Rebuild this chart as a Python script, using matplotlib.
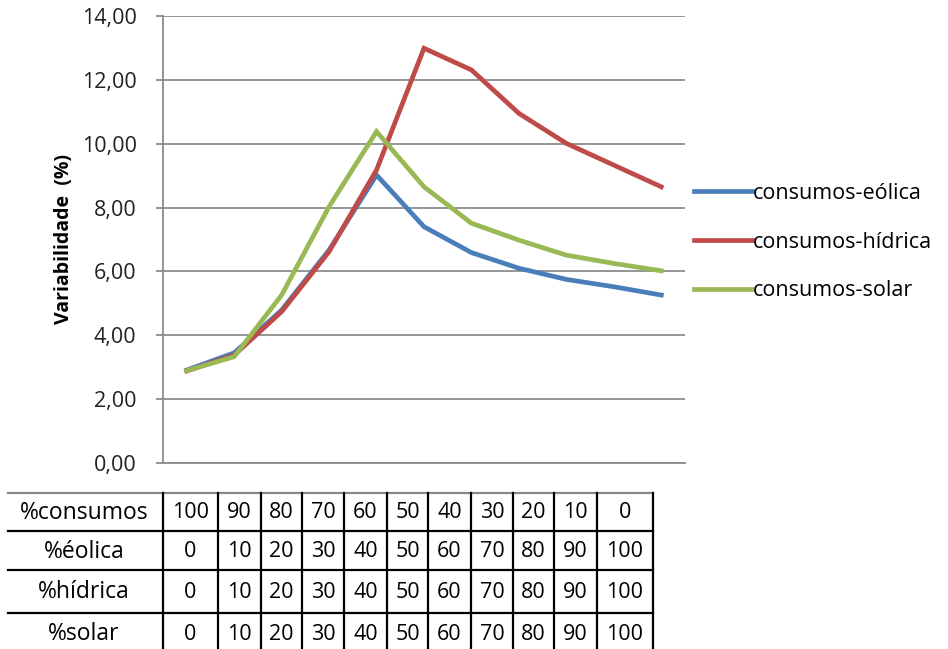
import numpy as np
import matplotlib
matplotlib.use('Agg')
import matplotlib.pyplot as plt
from matplotlib.lines import Line2D

# chart data
eolica = [2.91, 3.45, 4.79, 6.67, 9.02, 7.40, 6.59, 6.10, 5.75, 5.52, 5.26]
hidrica = [2.88, 3.38, 4.74, 6.62, 9.18, 12.99, 12.31, 10.95, 10.01, 9.33, 8.65]
solar = [2.89, 3.33, 5.26, 8.03, 10.38, 8.65, 7.51, 6.98, 6.51, 6.25, 6.02]
series_names = ['consumos-eólica', 'consumos-hídrica', 'consumos-solar']
series_colors = ['#4A7EBB', '#BE4B48', '#98B954']

# table below the chart
row_labels = ['%consumos', '%éolica', '%hídrica', '%solar']
pct_consumos = [100, 90, 80, 70, 60, 50, 40, 30, 20, 10, 0]
pct_eolica = [0, 10, 20, 30, 40, 50, 60, 70, 80, 90, 100]
pct_hidrica = [0, 10, 20, 30, 40, 50, 60, 70, 80, 90, 100]
pct_solar = [0, 10, 20, 30, 40, 50, 60, 70, 80, 90, 100]

plt.rcParams['font.family'] = ['Open Sans', 'DejaVu Sans']

W, H = 948, 649
fig = plt.figure(figsize=(W / 100, H / 100), dpi=100)


def fx(px):
    return px / W


def fy(py):
    return 1 - py / H


ax = fig.add_axes([fx(163), fy(463), fx(685) - fx(163), fy(16) - fy(463)])
x = np.arange(len(eolica))
for vals, name, col in zip([eolica, hidrica, solar], series_names, series_colors):
    ax.plot(x, vals, color=col, lw=3.4, label=name, solid_joinstyle='miter')

ax.set_xlim(-0.5, len(eolica) - 0.5)
ax.set_ylim(0, 14)
ax.set_yticks(np.arange(0, 15, 2))
ax.set_yticklabels(['{:.2f}'.format(v).replace('.', ',') for v in np.arange(0, 15, 2)])
ax.set_xticks([])
ax.grid(axis='y', color='#8c8c8c', lw=1.3)
ax.set_axisbelow(True)
for s in ['top', 'right']:
    ax.spines[s].set_visible(False)
for s in ['left', 'bottom']:
    ax.spines[s].set_color('#8c8c8c')
    ax.spines[s].set_linewidth(1.3)
ax.tick_params(axis='y', length=5, color='#8c8c8c', width=1.3, pad=14,
               labelsize=15.5, labelcolor='#222222')
ax.set_ylabel('Variabilidade  (%)', fontsize=14, fontweight='bold')
ax.yaxis.set_label_coords(-0.17, 0.5)

fig.legend(loc='center left', bbox_to_anchor=(fx(694), fy(242)), frameon=False,
           fontsize=15.5, handlelength=2.7, handletextpad=0.05, labelspacing=1.3,
           borderpad=0, borderaxespad=0)

# table drawn in figure pixels
col_edges = [163, 218, 261, 302, 344, 387, 428, 471, 513, 554, 597, 653]
row_edges = [493, 531, 570, 613, 653]
for i, ry in enumerate(row_edges[:-1]):
    c = '#888888' if i == 0 else 'black'
    fig.add_artist(Line2D([fx(8), fx(653)], [fy(ry), fy(ry)], color=c, lw=1.6))
for cx in col_edges:
    fig.add_artist(Line2D([fx(cx), fx(cx)], [fy(493), fy(653)], color='black', lw=1.6))

table_rows = [pct_consumos, pct_eolica, pct_hidrica, pct_solar]
for r, (lab, vals) in enumerate(zip(row_labels, table_rows)):
    yc = (row_edges[r] + row_edges[r + 1]) / 2 + 1
    fig.text(fx(84), fy(yc), lab, ha='center', va='center', fontsize=16.5)
    for j, v in enumerate(vals):
        xc = (col_edges[j] + col_edges[j + 1]) / 2
        fig.text(fx(xc), fy(yc), str(v), ha='center', va='center', fontsize=15.5)

fig.savefig('out.png', dpi=100)
